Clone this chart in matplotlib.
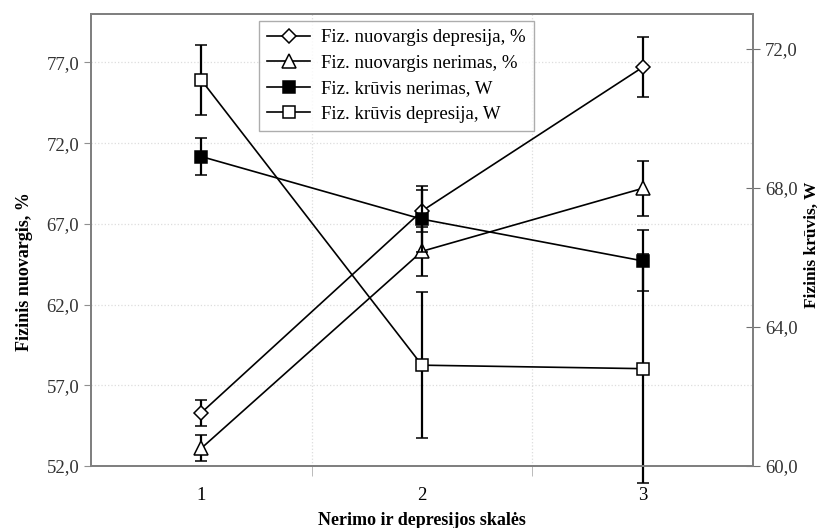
import matplotlib.pyplot as plt
from matplotlib.ticker import FuncFormatter
from matplotlib.lines import Line2D

plt.rcParams['font.family'] = ['Liberation Serif', 'DejaVu Serif']

x = [1, 2, 3]
x_labels = ['1', '2', '3']

# left axis: Fizinis nuovargis, %
nuov_depr = [55.3, 67.8, 76.7]
nuov_depr_err = [0.8, 1.3, 1.85]
nuov_ner = [53.1, 65.3, 69.2]
nuov_ner_err = [0.8, 1.5, 1.7]

# right axis: Fizinis kruvis, W
kruv_ner = [68.9, 67.1, 65.9]
kruv_ner_err = [0.53, 0.95, 0.88]
kruv_depr = [71.1, 62.9, 62.8]
kruv_depr_err = [1.0, 2.1, 3.3]

labels = ['Fiz. nuovargis depresija, %', 'Fiz. nuovargis nerimas, %',
          'Fiz. krūvis nerimas, W', 'Fiz. krūvis depresija, W']

fig = plt.figure(figsize=(8.27, 5.28), dpi=100)
ax = fig.add_axes([0.110, 0.1174, 0.8005, 0.8561])
ax2 = ax.twinx()

comma = FuncFormatter(lambda v, p: ('%.1f' % v).replace('.', ','))

err_kw = dict(color='black', ecolor='black', elinewidth=1.6, capsize=4, capthick=1.6,
              lw=1.2, markersize=8, markeredgecolor='black', markeredgewidth=1.1)

styles = [dict(marker='D', markerfacecolor='white', markersize=7),
          dict(marker='^', markerfacecolor='white', markersize=10),
          dict(marker='s', markerfacecolor='black', markersize=8),
          dict(marker='s', markerfacecolor='white', markersize=8)]

ax.errorbar(x, nuov_depr, yerr=nuov_depr_err, **dict(err_kw, **styles[0]))
ax.errorbar(x, nuov_ner, yerr=nuov_ner_err, **dict(err_kw, **styles[1]))
h3 = ax2.errorbar(x, kruv_ner, yerr=kruv_ner_err, **dict(err_kw, **styles[2]))
h4 = ax2.errorbar(x, kruv_depr, yerr=kruv_depr_err, **dict(err_kw, **styles[3]))
for h in (h3, h4):
    for art in h.lines[1] + h.lines[2]:
        art.set_clip_on(False)

ax.set_xlim(0.5, 3.5)
ax.set_ylim(52, 80)
ax2.set_ylim(60, 73)
ax.set_yticks([52, 57, 62, 67, 72, 77])
ax2.set_yticks([60, 64, 68, 72])
ax.yaxis.set_major_formatter(comma)
ax2.yaxis.set_major_formatter(comma)

ax.set_xticks(x)
ax.set_xticklabels(x_labels)
ax.set_xticks([1.5, 2.5], minor=True)
ax.tick_params(axis='x', which='major', length=0, labelsize=13.5, pad=15)
ax.tick_params(axis='x', which='minor', length=7, color='#b0b0b0', direction='out')
ax.tick_params(axis='y', length=5, color='#909090', labelsize=13.5, labelcolor='#333333')
ax2.tick_params(axis='y', length=10, direction='inout', color='#707070', labelsize=13.5,
                labelcolor='#333333')

ax.grid(True, axis='y', which='major', linestyle=':', color='#dddddd', lw=0.9)
ax.grid(True, axis='x', which='minor', linestyle=':', color='#dddddd', lw=0.9)

for a in (ax, ax2):
    for s in a.spines.values():
        s.set_color('#808080')
        s.set_linewidth(1.4)

ax.set_xlabel('Nerimo ir depresijos skalės', fontsize=13, fontweight='bold')
ax.xaxis.set_label_coords(0.5, -0.102)
ax.set_ylabel('Fizinis nuovargis, %', fontsize=13, fontweight='bold')
ax.yaxis.set_label_coords(-0.088, 0.43)
ax2.set_ylabel('Fizinis krūvis, W', fontsize=12.5, fontweight='bold')
ax2.yaxis.set_label_coords(1.077, 0.49)

handles = [Line2D([], [], color='black', lw=1.2, markeredgecolor='black',
                  markeredgewidth=1.1, **st) for st in styles]
leg = ax.legend(handles, labels, loc='upper left', bbox_to_anchor=(0.239, 1.006),
                fontsize=13.5, frameon=True, fancybox=False, edgecolor='#999999',
                handlelength=2.3, borderpad=0.45, labelspacing=0.45, handletextpad=0.6)
leg.get_frame().set_linewidth(1.0)

plt.savefig('out.png', dpi=100)
